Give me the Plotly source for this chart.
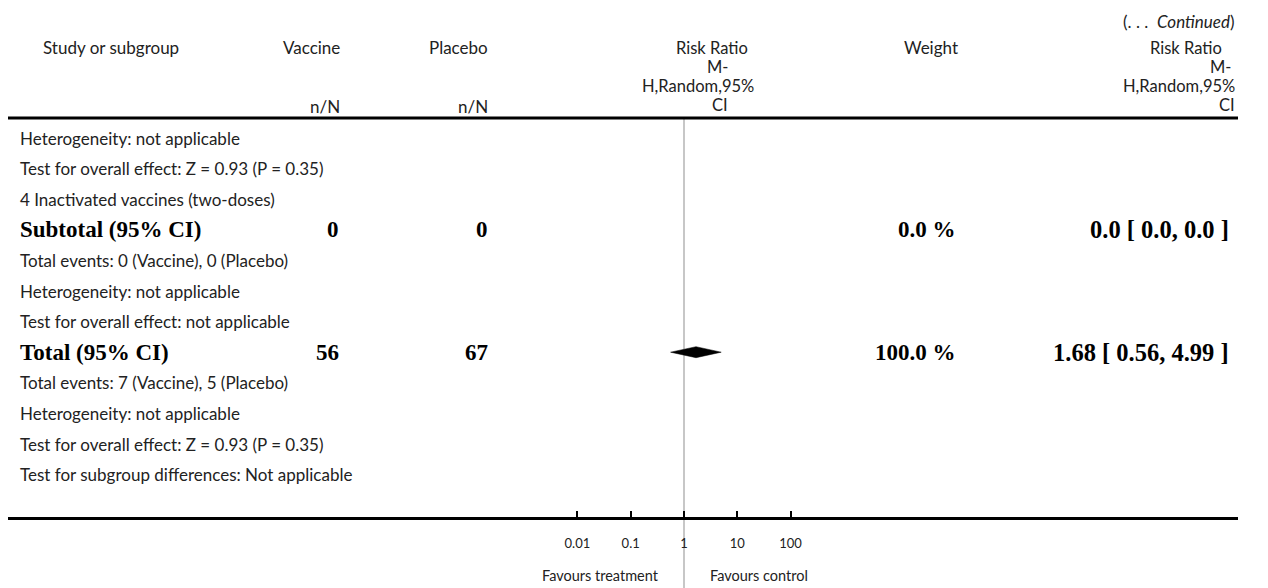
import plotly.graph_objects as go

# ---------------- data ----------------
row_labels = [
    "Heterogeneity: not applicable",
    "Test for overall effect: Z = 0.93 (P = 0.35)",
    "4 Inactivated vaccines (two-doses)",
    "Subtotal (95% CI)",
    "Total events: 0 (Vaccine), 0 (Placebo)",
    "Heterogeneity: not applicable",
    "Test for overall effect: not applicable",
    "Total (95% CI)",
    "Total events: 7 (Vaccine), 5 (Placebo)",
    "Heterogeneity: not applicable",
    "Test for overall effect: Z = 0.93 (P = 0.35)",
    "Test for subgroup differences: Not applicable",
]
bold_rows = [3, 7]
vaccine_n = {3: "0", 7: "56"}
placebo_n = {3: "0", 7: "67"}
weights = {3: "0.0 %", 7: "100.0 %"}
rr_text = {3: "0.0 [ 0.0, 0.0 ]", 7: "1.68 [ 0.56, 4.99 ]"}

# pooled estimate (Total row)
pooled_row = 7
pooled_est = 1.68
pooled_lo = 0.56
pooled_hi = 4.99

tick_vals = [0.01, 0.1, 1, 10, 100]
tick_text = ["0.01", "0.1", "1", "10", "100"]

rr_header = ["Risk Ratio", "M-", "H,Random,95%", "CI"]

# ---------------- layout helpers (screen pixels) ----------------
WIN_W, WIN_H = 1268, 588
OFF = 8                      # default page body margin
FIG_W, FIG_H = WIN_W - OFF, WIN_H - OFF
L, R = OFF, 1238             # plot area left/right on screen
T, B = 118, 517              # plot area top/bottom on screen
ROW0, ROWSTEP = 138, 30.6


def px(x):
    return (x - L) / (R - L)


def py(y):
    return (B - y) / (B - T)


SANS = "Lato, 'Open Sans', sans-serif"
SERIF = "'Liberation Serif', 'DejaVu Serif', serif"
TXT = "#222222"
ROW_FS = 17
HDR_FS = 17
BOLD_FS = 23
RR_FS = 24.5

fig = go.Figure()

# diamond for pooled estimate
hh = 5.5 / ROWSTEP
fig.add_trace(go.Scatter(
    x=[pooled_lo, pooled_est, pooled_hi, pooled_est, pooled_lo],
    y=[pooled_row, pooled_row - hh, pooled_row, pooled_row + hh, pooled_row],
    mode="lines", fill="toself", fillcolor="black",
    line=dict(color="black", width=0.5), hoverinfo="skip", showlegend=False,
))

ann = []


def add(text, x, y, xanchor="left", size=HDR_FS, font=SANS, yref="paper", color=TXT):
    ann.append(dict(text=text, x=px(x), xref="paper", y=y, yref=yref,
                    xanchor=xanchor, yanchor="middle", showarrow=False,
                    font=dict(family=font, size=size, color=color)))


# headers
add("Study or subgroup", 41, py(48))
add("Vaccine", 342, py(48), "right")
add("Placebo", 490, py(48), "right")
add("n/N", 342, py(107), "right")
add("n/N", 490, py(107), "right")
add("Weight", 960, py(48), "right")
mid_x = [712, 717, 698, 720]
right_x = [1224, 1233, 1237, 1237]
for i, t in enumerate(rr_header):
    yy = py(48 + 19 * i)
    add(t, mid_x[i], yy, "center", size=16.5)
    add(t, right_x[i], yy, "right", size=16.5)
add("(. . .  <i>Continued</i>)", 1237, py(21), "right", size=17)

# rows
for i, lab in enumerate(row_labels):
    if i in bold_rows:
        add("<b>%s</b>" % lab, 18, i, size=BOLD_FS, font=SERIF, yref="y", color="black")
        add("<b>%s</b>" % vaccine_n[i], 341, i, "right", BOLD_FS, SERIF, "y", "black")
        add("<b>%s</b>" % placebo_n[i], 490, i, "right", BOLD_FS, SERIF, "y", "black")
        add("<b>%s</b>" % weights[i], 958, i, "right", BOLD_FS, SERIF, "y", "black")
        add("<b>%s</b>" % rr_text[i], 1231, i, "right", RR_FS, SERIF, "y", "black")
    else:
        add(lab, 18, i, size=ROW_FS, yref="y")

# favours labels
add("Favours treatment", 600, py(575), "center", size=14.5)
add("Favours control", 759, py(575), "center", size=14.5)

# x range: decade = 53.3 px, 1 at x=684
dec = 53.3
x_one = 684
lo = -(x_one - L) / dec
hi = (R - x_one) / dec

y_top = (T - ROW0) / ROWSTEP
y_bot = (B - ROW0) / ROWSTEP

shapes = [
    dict(type="line", xref="paper", yref="paper", x0=0, x1=1, y0=1, y1=1,
         line=dict(color="black", width=3)),
    dict(type="line", xref="x", yref="paper", x0=1, x1=1, y0=py(WIN_H + 5), y1=1,
         line=dict(color="#b4b4b4", width=1.5), layer="below"),
]

fig.update_layout(
    width=FIG_W, height=FIG_H,
    margin=dict(l=L - OFF, r=WIN_W - R, t=T - OFF, b=WIN_H - B),
    paper_bgcolor="white", plot_bgcolor="white",
    annotations=ann, shapes=shapes, showlegend=False,
    xaxis=dict(type="log", range=[lo, hi], showgrid=False, zeroline=False,
               showline=True, linecolor="black", linewidth=3,
               ticks="inside", ticklen=6, tickwidth=2, tickcolor="black",
               tickvals=tick_vals, ticktext=tick_text,
               tickfont=dict(family=SANS, size=13, color=TXT),
               ticklabelstandoff=12, fixedrange=True),
    yaxis=dict(range=[y_bot, y_top], showgrid=False, zeroline=False,
               showline=False, showticklabels=False, ticks="", fixedrange=True),
)

fig.write_html("out.html", config={"displayModeBar": False})
